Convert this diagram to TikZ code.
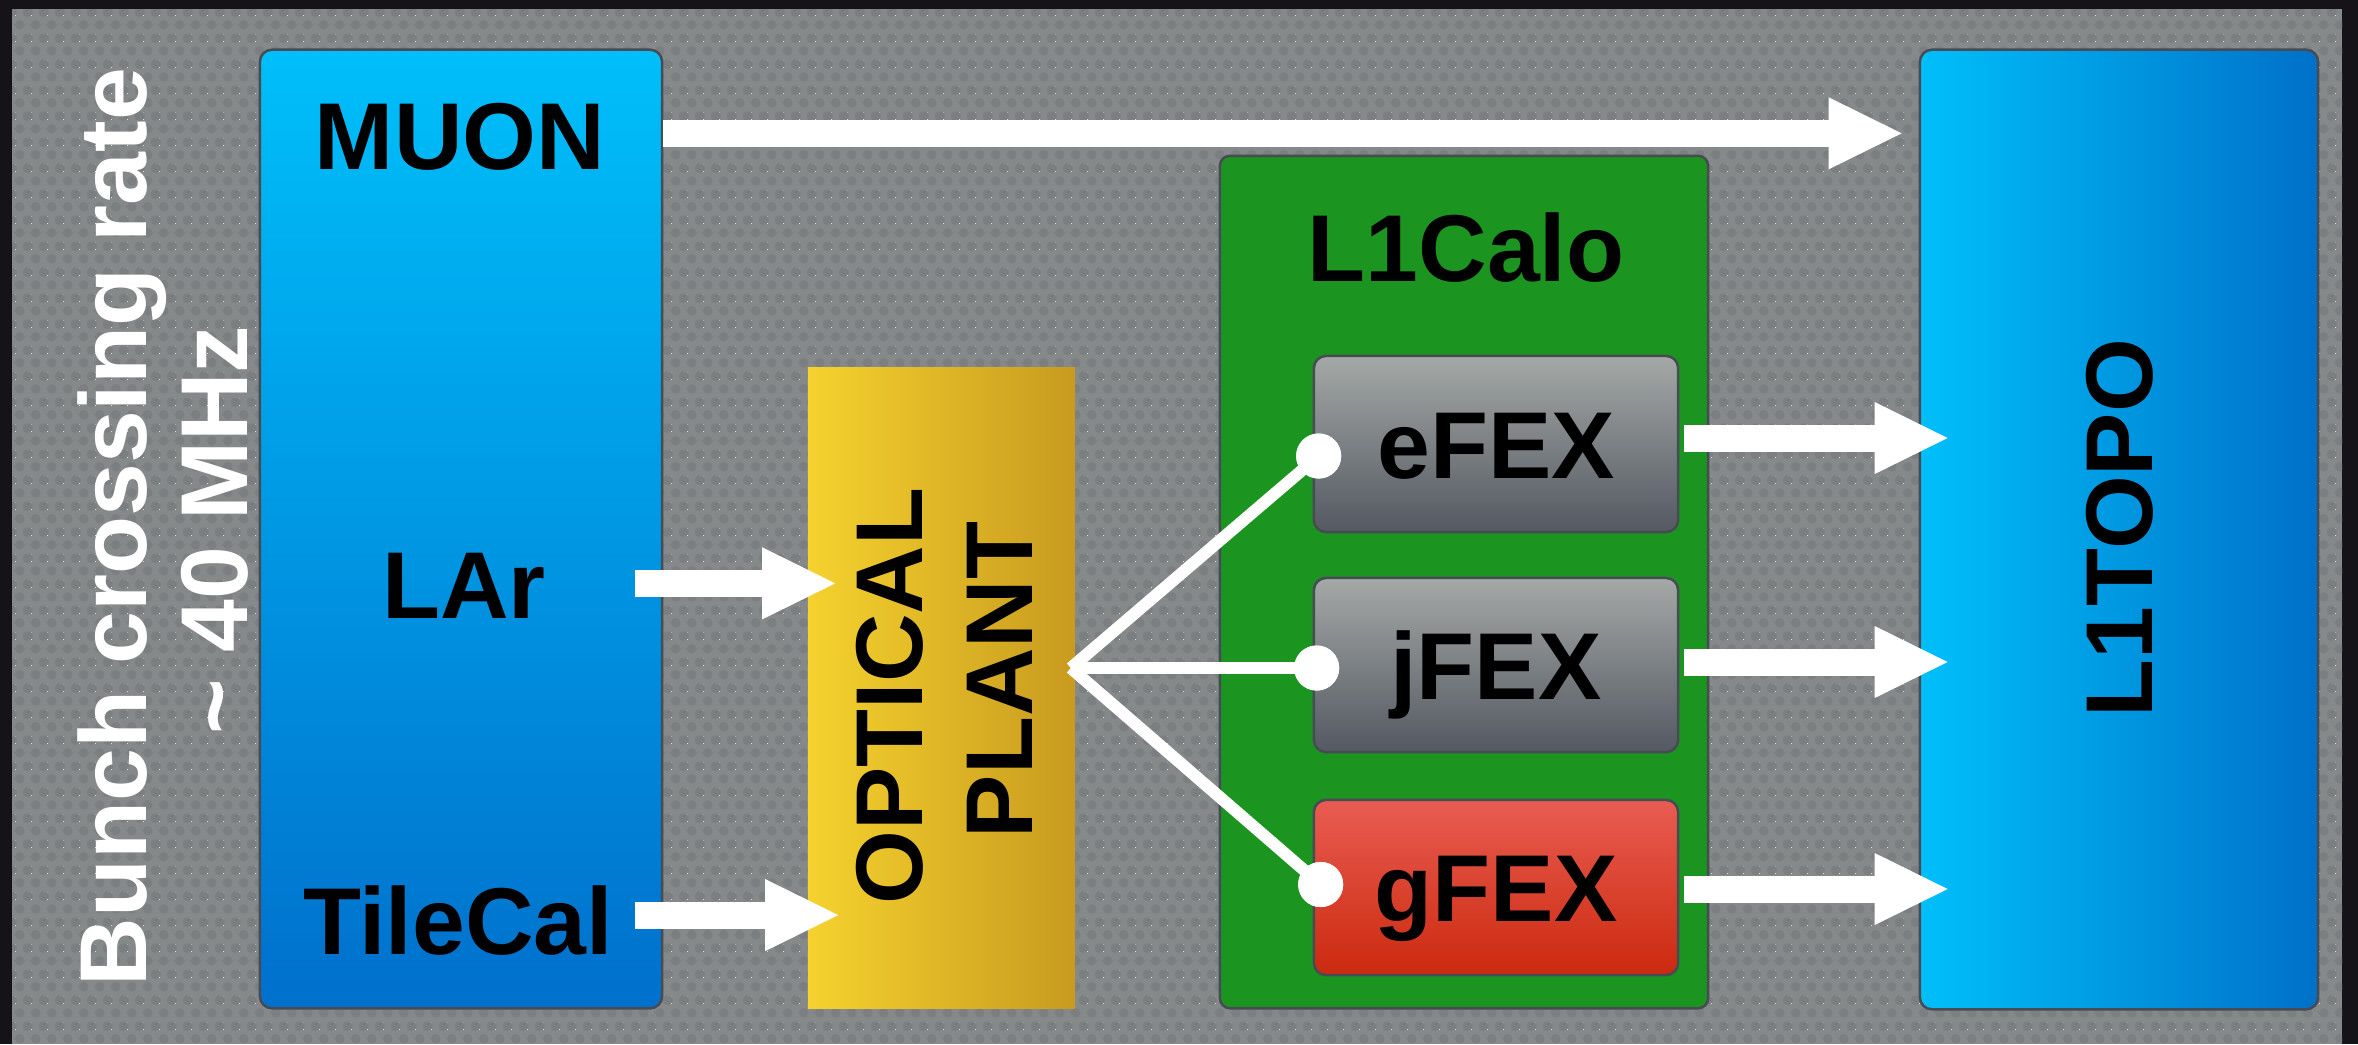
\documentclass[tikz,border=0pt]{standalone}
\usepackage{fontspec}
\setmainfont{Liberation Sans}
\usetikzlibrary{arrows.meta,patterns.meta,calc}

\definecolor{frame}{HTML}{151318}
\definecolor{panel}{HTML}{86898A}
\definecolor{paneldot}{HTML}{7C7F81}
\definecolor{edge}{HTML}{474C54}
\definecolor{bluetop}{HTML}{00BFFA}
\definecolor{bluebot}{HTML}{0070CC}
\definecolor{topoL}{HTML}{00BFFA}
\definecolor{topoR}{HTML}{0070C8}
\definecolor{optL}{HTML}{F5D22E}
\definecolor{optR}{HTML}{C89A1F}
\definecolor{calo}{HTML}{1C9420}
\definecolor{fexT}{HTML}{A4A8A6}
\definecolor{fexB}{HTML}{545962}
\definecolor{redT}{HTML}{E95C52}
\definecolor{redB}{HTML}{CB2A0E}

\pgfdeclarepattern{
  name=hexdots,
  type=colored,
  bottom left={\pgfpoint{0cm}{0cm}},
  top right={\pgfpoint{0.16cm}{0.26cm}},
  tile size={\pgfpoint{0.16cm}{0.26cm}},
  code={
    \pgfsetfillcolor{paneldot}
    \pgfpathcircle{\pgfpoint{0.04cm}{0.065cm}}{0.05cm}
    \pgfpathcircle{\pgfpoint{0.20cm}{0.065cm}}{0.05cm}
    \pgfpathcircle{\pgfpoint{0.12cm}{0.195cm}}{0.05cm}
    \pgfpathcircle{\pgfpoint{-0.04cm}{0.195cm}}{0.05cm}
    \pgfusepath{fill}
  }
}

\tikzset{
  box/.style={draw=edge, line width=0.025cm, rounded corners=0.12cm, inner sep=0pt},
  lbl/.style={font=\fontsize{27}{31}\selectfont\bfseries, text=black, inner sep=0pt},
  wlbl/.style={lbl, text=white},
  capc/.style={text height=0.68cm, text depth=0cm},
  barrow/.style={draw=white, line width=0.27cm,
    -{Triangle[length=0.73cm,width=0.72cm,line width=0pt]}},
  fanline/.style={draw=white, line width=0.12cm},
  dotn/.style={circle, fill=white, minimum size=0.45cm, inner sep=0pt},
}

\begin{document}
\begin{tikzpicture}[x=0.01cm,y=-0.01cm]
\useasboundingbox (0,0) rectangle (2358,1044);
% background
\fill[frame] (0,0) rectangle (2358,1044);
\fill[panel] (12,9) rectangle (2342,1044);
\fill[pattern=hexdots] (12,9) rectangle (2342,1044);

% boxes
\node[box, top color=bluetop, bottom color=bluebot,
      minimum width=4.02cm, minimum height=9.58cm] (col) at (461,529) {};
\node[box, left color=topoL, right color=topoR,
      minimum width=3.98cm, minimum height=9.59cm] (topo) at (2119,529.5) {};
\node[inner sep=0pt, left color=optL, right color=optR,
      minimum width=2.67cm, minimum height=6.40cm] (opt) at (941.5,688) {};
\node[box, fill=calo, rounded corners=0.1cm,
      minimum width=4.88cm, minimum height=8.52cm] (calo) at (1464,582) {};
\node[box, lbl, capc, top color=fexT, bottom color=fexB,
      minimum width=3.64cm, minimum height=1.76cm] (efex) at (1496,444) {eFEX};
\node[box, lbl, capc, top color=fexT, bottom color=fexB,
      minimum width=3.64cm, minimum height=1.74cm] (jfex) at (1496,665) {jFEX};
\node[box, lbl, capc, top color=redT, bottom color=redB,
      minimum width=3.64cm, minimum height=1.75cm] (gfex) at (1496,887.5) {gFEX};

% labels
\node[lbl, anchor=base] (muon) at (460,169) {MUON};
\node[lbl, anchor=base] (lar) at (464,618) {LAr};
\node[lbl, anchor=base] (tile) at (458,954) {TileCal};
\node[lbl, anchor=base] (calot) at (1466,281) {L1Calo};
\node[lbl, capc, rotate=90] (topot) at (2118,528) {L1TOPO};
\node[lbl, rotate=90, anchor=base] (optA) at (922,696) {OPTICAL};
\node[lbl, rotate=90, anchor=base] (optB) at (1032,680) {PLANT};
\node[wlbl, rotate=90, anchor=base] (bcr) at (146,527) {Bunch crossing rate};
\node[wlbl, rotate=90, anchor=base] (mhz) at (247,530) {\textasciitilde\ 40 MHz};

% block arrows
\draw[barrow] ($(col.east |- muon)+(0,-3)$) -- ($(topo.west |- muon)+(-17,-3)$);
\draw[barrow] ($(col.east |- lar)+(-28,-2)$) -- ($(opt.west |- lar)+(28,-2)$);
\draw[barrow] ($(col.east |- tile)+(-28,-5)$) -- ($(opt.west |- tile)+(31,-5)$);
\draw[barrow] ($(efex.east)+(5,-6)$) -- ($(topo.west |- efex.east)+(29,-6)$);
\draw[barrow] ($(jfex.east)+(5,-3)$) -- ($(topo.west |- jfex.east)+(29,-3)$);
\draw[barrow] ($(gfex.east)+(5,1.5)$) -- ($(topo.west |- gfex.east)+(29,1.5)$);

% fan-out
\coordinate (fan) at ($(opt.east |- jfex)+(-5,3)$);
\node[dotn] (edot) at ($(efex.west)+(6,12)$) {};
\node[dotn] (jdot) at ($(jfex.west)+(4,3)$) {};
\node[dotn] (gdot) at ($(gfex.west)+(8,-3)$) {};
\draw[fanline] (fan) -- (edot.center);
\draw[fanline] (fan) -- (jdot.center);
\draw[fanline] (fan) -- (gdot.center);
\node[dotn] at (edot) {};
\node[dotn] at (jdot) {};
\node[dotn] at (gdot) {};
\end{tikzpicture}
\end{document}
